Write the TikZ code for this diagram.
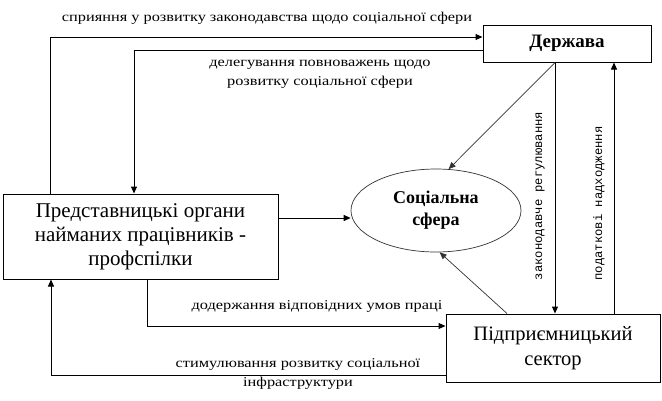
\documentclass[tikz,border=0pt]{standalone}
\usepackage{fontspec}
\setmainfont{Liberation Serif}
\newfontfamily\monof{Liberation Mono}
\newfontfamily\lblf[FakeStretch=1.21]{Liberation Serif}
\usetikzlibrary{arrows.meta,shapes.geometric}
\tikzset{
  box/.style={draw, line width=1pt, align=center, inner sep=0pt, font=\fontsize{21}{24}\selectfont},
  oval/.style={draw, ellipse, line width=0.7pt, draw=black!80, align=center, inner sep=0pt, font=\bfseries\fontsize{18}{22}\selectfont},
  arr/.style={line width=1pt, -{Triangle[length=7pt,width=6pt]}},
  thin arr/.style={line width=0.7pt, draw=black!80, -{Triangle[length=7pt,width=6pt]}},
  lbl/.style={align=center, inner sep=0pt, font=\lblf\fontsize{13.5}{19}\selectfont},
  vlbl/.style={rotate=90, inner sep=0pt, font=\monof\fontsize{12.2}{15}\selectfont}
}
\begin{document}
\begin{tikzpicture}[x=1pt,y=-1pt]
\path[fill=white] (0,0) rectangle (662,400);
\useasboundingbox (0,0) rectangle (662,400);

\node[box, minimum width=275pt, minimum height=85pt] (pr) at (140.5,236.5)
  {Представницькі органи\\найманих працівників -\\профспілки};
\node[box, minimum width=168pt, minimum height=37pt, font=\bfseries\fontsize{19}{24}\selectfont] (derz) at (567,43.5) {Держава};
\node[box, minimum width=214pt, minimum height=68pt, font=\fontsize{20.5}{25}\selectfont] (pid) at (553,348)
  {Підприємницький\\сектор};
\node[oval, minimum width=170pt, minimum height=83pt] (soc) at (436,210.5) {Соціальна\\сфера};

\coordinate (o1) at (50,37);
\coordinate (o2) at (134,50);
\coordinate (o3) at (0,218);
\coordinate (o4) at (555,0);
\coordinate (o5) at (614,0);
\coordinate (o6) at (507,0);
\coordinate (o7) at (147,326);
\coordinate (o8) at (51,375);

\draw[arr] (pr.north -| o1) |- (derz.west |- o1);
\draw[arr] (derz.west |- o2) -| (pr.north -| o2);
\draw[arr] (pr.east |- o3) -- (soc.west |- o3);
\draw[thin arr] (derz.south -| o4) -- (soc.73);
\draw[arr] (derz.south -| o4) -- (pid.north -| o4);
\draw[arr] (pid.north -| o5) -- (derz.south -| o5);
\draw[thin arr] (pid.north -| o6) -- (soc.-85);
\draw[arr] (pr.south -| o7) |- (pid.west |- o7);
\draw[arr] (pid.west |- o8) -| (pr.south -| o8);

\node[lbl] (t1) at (267,18) {сприяння у розвитку законодавства щодо соціальної сфери};
\node[lbl] (t2) at (320,74.5) {делегування повноважень щодо\\розвитку соціальної сфери};
\node[lbl] (t3) at (317,306) {додержання відповідних умов праці};
\node[lbl] (t4) at (298,374) {стимулювання розвитку соціальної\\інфраструктури};
\node[vlbl] (v1) at (540,196) {законодавче регулювання};
\node[vlbl] (v2) at (599,203.5) {податкові надходження};
\end{tikzpicture}
\end{document}
